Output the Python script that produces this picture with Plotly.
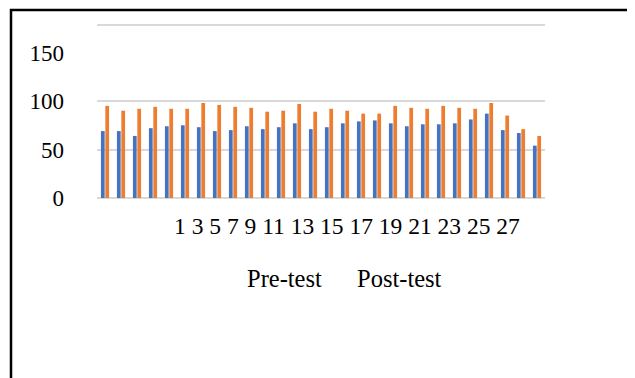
import plotly.graph_objects as go

# ---- data ----
students = [str(i) for i in range(1, 29)]
pre_test = [69, 69, 64, 72, 74, 75, 73, 69, 70, 74, 71, 73, 77, 71,
            73, 77, 79, 80, 77, 74, 76, 76, 77, 81, 87, 70, 67, 54]
post_test = [95, 90, 92, 94, 92, 92, 98, 96, 94, 93, 89, 90, 97, 89,
             92, 90, 87, 87, 95, 93, 92, 95, 93, 92, 98, 85, 71, 64]
series_names = ["Pre-test", "Post-test"]
x_tick_labels = [str(i) for i in range(1, 28, 2)]
y_tick_vals = [0, 50, 100, 150]
y_max = 178.4

# ---- layout geometry (pixels, page has an 8px body margin) ----
OFF = 8
W, H = 635, 378
L, R, T, B = 97 - OFF, 90 + OFF, 25 - OFF, 180 + OFF
pw, ph = W - L - R, H - T - B
scale = ph / y_max
PADPX = 3
pad_v = PADPX / scale


def px_x(x):
    return (x - OFF - L) / pw


def px_y(y):
    return (H - B - (y - OFF) + PADPX) / (ph + 2 * PADPX)


FONT = "Liberation Serif"
colors = ["#4472C4", "#ED7D31"]

fig = go.Figure()
fig.add_trace(go.Scatter(x=[students[0]], y=[0], yaxis="y2", mode="markers",
                         marker=dict(opacity=0, size=1), showlegend=False,
                         hoverinfo="skip"))
for name, vals, col in zip(series_names, [pre_test, post_test], colors):
    fig.add_trace(go.Bar(x=students, y=vals, name=name,
                         marker=dict(color=col, line=dict(width=0))))

rng = [-pad_v, y_max + pad_v]
fig.update_layout(
    width=W, height=H,
    margin=dict(l=L, r=R, t=T - PADPX, b=B - PADPX, pad=0),
    paper_bgcolor="white", plot_bgcolor="white",
    barmode="group", bargap=0.45, bargroupgap=0.15,
    showlegend=False,
    font=dict(family=FONT, size=22, color="black"),
    xaxis=dict(type="category", range=[-0.5, len(students) - 0.5],
               showticklabels=False, showgrid=False, zeroline=False,
               showline=False, ticks=""),
    yaxis=dict(range=rng, tickvals=y_tick_vals,
               ticktext=[str(v) for v in y_tick_vals],
               showgrid=False, zeroline=False, showline=False,
               ticks="", ticklabelstandoff=32,
               tickfont=dict(family=FONT, size=23, color="black")),
    yaxis2=dict(range=rng, overlaying="y",
                tickvals=[0, 50, 100, y_max], showticklabels=False,
                showgrid=True, gridcolor="#D9D9D9", gridwidth=1.5,
                zeroline=False, showline=False, ticks=""),
)

# x tick labels (squashed as in the reference)
fig.add_annotation(text=" ".join(x_tick_labels), xref="paper", yref="paper",
                   x=px_x(346.5), y=px_y(226), showarrow=False,
                   xanchor="center", yanchor="middle",
                   font=dict(family=FONT, size=23.5, color="black"))

# legend as plain text
for name, cx in zip(series_names, [284.5, 399]):
    fig.add_annotation(text=name, xref="paper", yref="paper",
                       x=px_x(cx), y=px_y(278), showarrow=False,
                       xanchor="center", yanchor="middle",
                       font=dict(family=FONT, size=24.5, color="black"))

# outer frame
fig.add_shape(type="rect", xref="paper", yref="paper",
              x0=px_x(11), x1=px_x(W + 40), y0=px_y(H + 40), y1=px_y(10),
              line=dict(color="black", width=2.5), fillcolor="rgba(0,0,0,0)",
              layer="above")

fig.write_html("out.html")
